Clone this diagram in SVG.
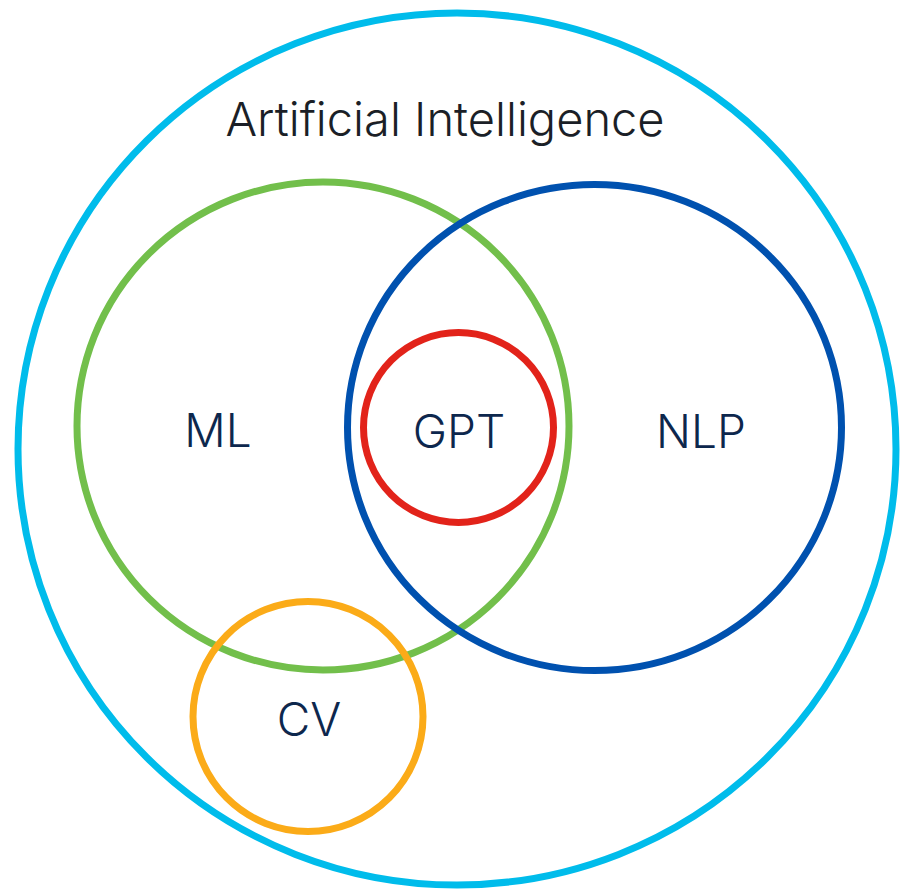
<svg xmlns="http://www.w3.org/2000/svg" width="901" height="891" viewBox="0 0 901 891">
<style>
.ring{fill:none;stroke-width:7}
.lbl{font-family:Inter,"Open Sans","Liberation Sans",sans-serif;font-weight:300;font-size:46px;fill:#0d274d;text-anchor:middle}
.title{fill:#1b1f27;font-size:47px}
</style>
<rect width="901" height="891" fill="#ffffff"/>
<g id="ai">
<ellipse class="ring" cx="457" cy="449" rx="439" ry="436" stroke="#00bceb"/>
<text class="lbl title" x="445" y="136">Artificial Intelligence</text>
</g>
<g id="ml">
<ellipse class="ring" cx="323" cy="426" rx="246" ry="244" stroke="#72bf4b"/>
<text class="lbl" x="218" y="447">ML</text>
</g>
<g id="nlp">
<ellipse class="ring" cx="594.5" cy="427.5" rx="247" ry="243" stroke="#0051af"/>
<text class="lbl" x="701" y="448">NLP</text>
</g>
<g id="gpt">
<circle class="ring" cx="458.5" cy="427.5" r="95" stroke="#e2231a"/>
<text class="lbl" x="459" y="448">GPT</text>
</g>
<g id="cv">
<circle class="ring" cx="308" cy="716.5" r="115" stroke="#fbab18"/>
<text class="lbl" x="309" y="736">CV</text>
</g>
<g id="connectors"/>
</svg>
